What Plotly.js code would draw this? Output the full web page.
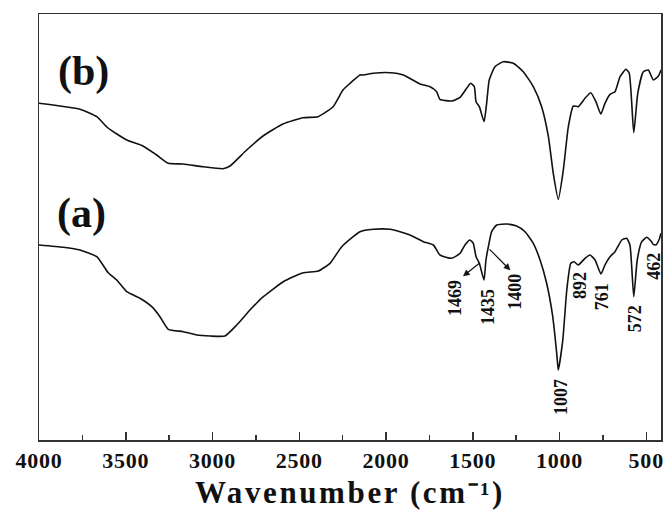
<!DOCTYPE html>
<html>
<head>
<meta charset="utf-8">
<script src="https://cdn.plot.ly/plotly-3.0.1.min.js"></script>
<style>
html,body{margin:0;padding:0;background:#fff;}
#chart{width:667px;height:510px;}
#chart .g-xtitle text{letter-spacing:2.6px;}
#chart .xtick text{letter-spacing:0.8px;}
</style>
</head>
<body>
<div id="chart"></div>
<script>
// Wavenumber (cm^-1) and transmittance (arbitrary units, offset)
const wnB = [4000,3764,3667,3602,3494,3401,3322,3255,3170,3055,2940,2899,2803,2709,2594,2478,2392,2305,2248,2207,2150,2131,2073,1977,1900,1804,1746,1708,1689,1621,1573,1535,1512,1491,1481,1462,1435,1420,1405,1372,1324,1266,1209,1151,1103,1064,1036,1007,978,949,920,892,853,820,790,762,738,709,680,651,617,598,572,549,517,488,459,430,415];
const tB  = [336.7,330.7,323.3,312,300,294,285,276.7,276,273.3,271.3,274,290,304,316,322.3,323.3,333.3,350,356.7,365,365,366.7,367.3,365,356,353.3,348.3,340.7,339,342.7,351.7,356.7,353.3,338.3,333.3,318.3,336.7,360,373.3,378.3,376.7,368.3,353.3,333.3,303.3,266.7,240.7,270,313.3,334,333.3,341.7,347.3,338.3,326,336.7,345.7,348.3,363.3,370.7,366.7,307.3,346.7,368.3,370,360,364,370];

const wnA = [4000,3860,3764,3667,3601,3552,3494,3418,3350,3303,3255,3168,3091,3014,2928,2860,2784,2707,2592,2477,2390,2323,2255,2150,2073,1977,1919,1862,1785,1727,1689,1621,1573,1545,1516,1497,1481,1462,1435,1424,1410,1391,1362,1304,1247,1199,1151,1112,1074,1039,1016,1007,981,958,935,916,892,853,824,795,761,738,709,680,641,613,594,572,552,526,497,469,462,444,425,415];
const tA  = [195,192.7,190,183.3,167.3,160,148.3,141.7,133.3,123.3,110.7,108.3,105,104,104,115,130,143.3,158.3,167.3,169,176.7,193.3,208.3,210.7,210.7,208.3,205,198.3,195,185,181.7,186.7,195,200,196.7,183.3,176.7,160,180,193.3,208.3,215,216,214,208.3,196.7,180,156.7,123.3,86.7,70,100,150,176.7,178.3,175,181.7,185,180,166,175,183.3,188.3,200,201.7,195,143.3,180,198.3,202.7,198.3,196,195,200.7,206.7];

const peakLabels = ['1469','1435','1400','1007','892','761','572','462'];
const peakX      = [1602,1416,1256,991,882,757,565,455];
const peakY      = [142,133.3,148.3,43,155,143.3,121.7,173.3];

// arrows (tail on curve a -> head at label)
const arrowTailX = [1462, 1403];
const arrowTailY = [176.7, 190.7];
const arrowHeadX = [1554, 1285];
const arrowHeadY = [164, 170];

const sampleLabels = ['(b)','(a)'];
const sampleX = [3746,3754];
const sampleY = [369,227];

const xTickVals = [4000,3500,3000,2500,2000,1500,1000,500];
const xTitle = 'Wavenumber (cm\u207B\u00B9)';

const FONT = 'Liberation Serif, Times New Roman, serif';
const X_RANGE = [4000, 415], Y_RANGE = [0, 426];
const W = 667, H = 510, M = {l: 39, r: 6, t: 14, b: 70};
const pw = W - M.l - M.r, ph = H - M.t - M.b;
const xPerPx = (X_RANGE[0] - X_RANGE[1]) / pw;
const yPerPx = (Y_RANGE[1] - Y_RANGE[0]) / ph;

const traces = [
  {x: wnB, y: tB, mode: 'lines', line: {color: '#111', width: 1.6, shape: 'spline', smoothing: 0.5}, showlegend: false, hoverinfo: 'skip'},
  {x: wnA, y: tA, mode: 'lines', line: {color: '#111', width: 1.6, shape: 'spline', smoothing: 0.5}, showlegend: false, hoverinfo: 'skip'}
];

const annotations = [];
peakLabels.forEach((t, i) => annotations.push({
  x: peakX[i], y: peakY[i], xref: 'x', yref: 'y', text: t, showarrow: false,
  textangle: -90, font: {family: FONT, size: 18, color: '#111', weight: 'bold'}
}));
sampleLabels.forEach((t, i) => annotations.push({
  x: sampleX[i], y: sampleY[i], xref: 'x', yref: 'y', text: t, showarrow: false,
  font: {family: FONT, size: 42, color: '#111', weight: 'bold'}
}));

// arrows as shapes: shaft line + filled triangular head
const shapes = [];
arrowTailX.forEach((_, i) => {
  const tx = arrowTailX[i], ty = arrowTailY[i], hx = arrowHeadX[i], hy = arrowHeadY[i];
  const dxp = -(hx - tx) / xPerPx, dyp = -(hy - ty) / yPerPx;
  const len = Math.hypot(dxp, dyp), ux = dxp / len, uy = dyp / len;
  const hl = 6, hw = 3;
  const bx = -hl * ux, by = -hl * uy;
  const p1x = bx + hw * (-uy), p1y = by + hw * ux;
  const p2x = bx - hw * (-uy), p2y = by - hw * ux;
  const toX = px => hx - px * xPerPx, toY = py => hy - py * yPerPx;
  shapes.push({type: 'line', xref: 'x', yref: 'y', x0: tx, y0: ty, x1: toX(bx), y1: toY(by),
    line: {color: '#111', width: 1.2}});
  shapes.push({type: 'path', xref: 'x', yref: 'y',
    path: `M${hx},${hy} L${toX(p1x)},${toY(p1y)} L${toX(p2x)},${toY(p2y)} Z`,
    fillcolor: '#111', line: {color: '#111', width: 0.5}});
});

const layout = {
  width: W, height: H,
  margin: M,
  paper_bgcolor: '#fff', plot_bgcolor: '#fff',
  xaxis: {
    range: X_RANGE, tickvals: xTickVals, ticks: 'inside', ticklen: 8, tickwidth: 1.5, tickcolor: '#333',
    minor: {dtick: 250, ticks: 'inside', ticklen: 5, tickwidth: 1.3, tickcolor: '#333'},
    showline: true, linecolor: '#333', linewidth: 1.5, mirror: true, showgrid: false, zeroline: false,
    tickfont: {family: FONT, size: 22, color: '#111', weight: 'bold'},
    title: {text: xTitle, font: {family: FONT, size: 31, color: '#111', weight: 'bold'}, standoff: 12}
  },
  yaxis: {
    range: Y_RANGE, showticklabels: false, ticks: '', showgrid: false, zeroline: false,
    showline: true, linecolor: '#333', linewidth: 1.5, mirror: true
  },
  annotations: annotations,
  shapes: shapes
};

Plotly.newPlot('chart', traces, layout, {staticPlot: true, displayModeBar: false}).then(gd => {
  gd.querySelectorAll('text').forEach(t => { if (!t.textContent.trim()) t.remove(); });
  const tester = document.getElementById('js-plotly-tester');
  if (tester) tester.remove();
});
</script>
</body>
</html>
